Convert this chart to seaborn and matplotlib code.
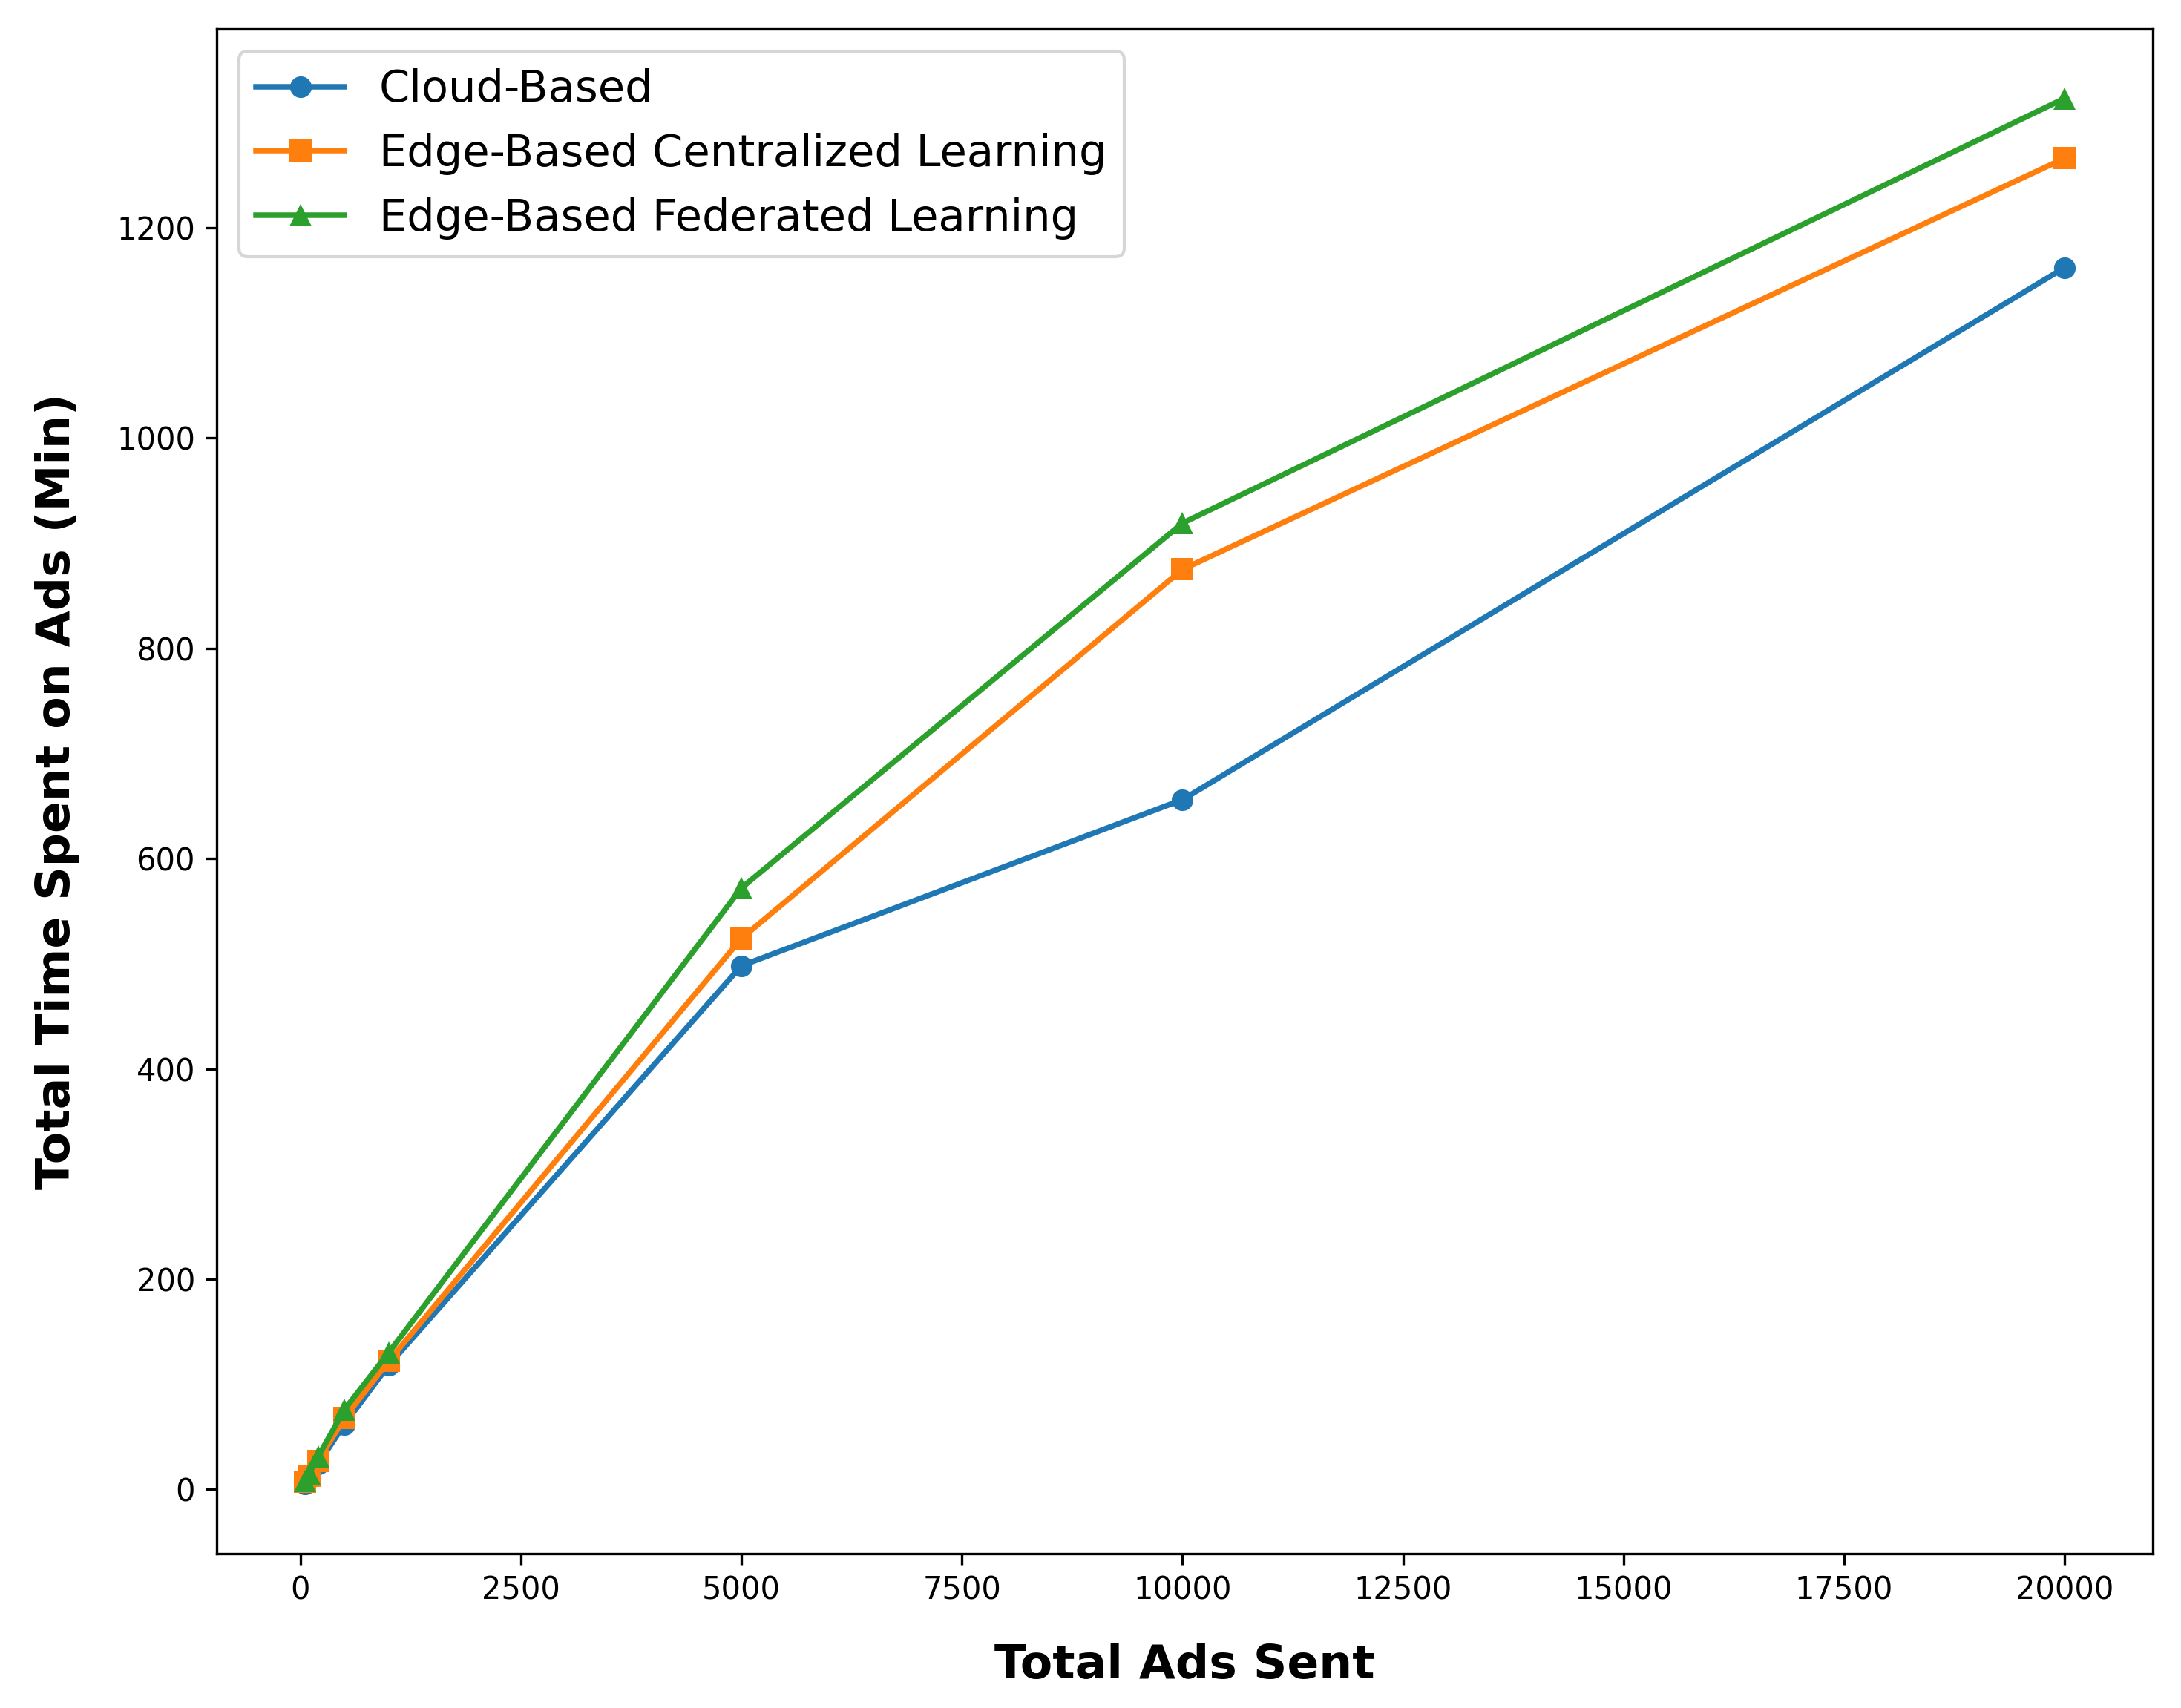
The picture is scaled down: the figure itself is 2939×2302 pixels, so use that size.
import numpy as np
import pandas as pd
import matplotlib
matplotlib.use("Agg")
import matplotlib.pyplot as plt
import seaborn as sns

# ads sent (x) and total time on ads in minutes (y)
ads_sent = [50, 100, 200, 500, 1000, 5000, 10000, 20000]
cloud_based = [5, 11, 24, 62, 118, 498, 656, 1162]
edge_centralized = [7, 13, 27, 68, 122, 524, 875, 1266]
edge_federated = [8, 15, 31, 76, 130, 572, 919, 1323]

series_names = ["Cloud-Based", "Edge-Based Centralized Learning", "Edge-Based Federated Learning"]
series_values = [cloud_based, edge_centralized, edge_federated]
series_markers = ["o", "s", "^"]
series_colors = ["#1f77b4", "#ff7f0e", "#2ca02c"]

fig, ax = plt.subplots(figsize=(2939 / 300, 2302 / 300), dpi=300)
fig.subplots_adjust(left=0.0994, right=0.987, top=0.983, bottom=0.0905)

for name, vals, mk, col in zip(series_names, series_values, series_markers, series_colors):
    df = pd.DataFrame({"ads": ads_sent, "time": vals})
    sns.lineplot(data=df, x="ads", y="time", ax=ax, label=name, color=col,
                 marker=mk, markersize=7, markeredgewidth=0, linewidth=1.8)

ax.set_xlabel("Total Ads Sent", fontsize=15.2, fontweight="bold", labelpad=12)
ax.set_ylabel("Total Time Spent on Ads (Min)", fontsize=15.2, fontweight="bold", labelpad=12)
ax.set_xticks([0, 2500, 5000, 7500, 10000, 12500, 15000, 17500, 20000])
ax.legend(loc="upper left", fontsize=14.2)

fig.savefig("out.png", dpi=300)
